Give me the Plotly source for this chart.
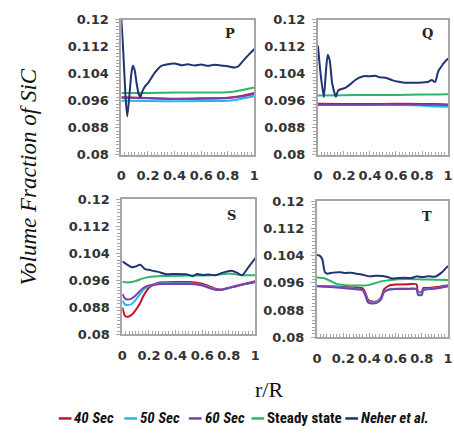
import plotly.graph_objects as go
from plotly.subplots import make_subplots

W, H = 454, 439

series_names = ["40 Sec", "50 Sec", "60 Sec", "Steady state", "Neher et al."]
series_colors = ["#c8102e", "#29b6ea", "#7a3fa8", "#2fb56a", "#1f3470"]
panel_labels = ["P", "Q", "S", "T"]
y_ticks = [0.08, 0.088, 0.096, 0.104, 0.112, 0.12]
x_ticks = [0, 0.2, 0.4, 0.6, 0.8, 1]

# ---------------- Panel P ----------------
P_x_neher = [0, 0.015, 0.03, 0.044, 0.06, 0.075, 0.086, 0.1, 0.115, 0.13, 0.142, 0.16, 0.18, 0.2, 0.25, 0.3,
             0.35, 0.4, 0.45, 0.5, 0.55, 0.6, 0.65, 0.7, 0.75, 0.8, 0.85, 0.88, 0.92, 0.96, 1.0]
P_neher = [0.1200, 0.1100, 0.0980, 0.0913, 0.0975, 0.1040, 0.1063, 0.1050, 0.1010, 0.0980, 0.0971, 0.0990,
           0.1004, 0.1012, 0.1042, 0.1063, 0.1068, 0.1070, 0.1065, 0.1068, 0.1064, 0.1067, 0.1063, 0.1066,
           0.1064, 0.1062, 0.1058, 0.1062, 0.1080, 0.1097, 0.1113]
P_x = [0, 0.2, 0.4, 0.6, 0.8, 0.85, 0.9, 1.0]
P_40 = [0.0970, 0.0968, 0.0966, 0.0967, 0.0969, 0.0971, 0.0974, 0.0983]
P_50 = [0.0960, 0.0959, 0.0958, 0.0959, 0.0960, 0.0962, 0.0966, 0.0973]
P_60 = [0.0969, 0.0967, 0.0965, 0.0966, 0.0968, 0.0970, 0.0972, 0.0980]
P_ss = [0.0983, 0.0983, 0.0984, 0.0984, 0.0985, 0.0987, 0.0991, 0.0999]

# ---------------- Panel Q ----------------
Q_x_neher = [0, 0.02, 0.045, 0.06, 0.075, 0.09, 0.11, 0.138, 0.155, 0.175, 0.21, 0.25, 0.29, 0.33, 0.37, 0.4,
             0.44, 0.475, 0.52, 0.575, 0.62, 0.675, 0.74, 0.8, 0.85, 0.875, 0.9, 0.925, 0.95, 0.975, 1.0]
Q_neher = [0.1123, 0.1040, 0.0971, 0.1040, 0.1096, 0.1080, 0.1010, 0.0972, 0.0990, 0.0994, 0.0998, 0.1009,
           0.1022, 0.1030, 0.1033, 0.1032, 0.1034, 0.1029, 0.1028, 0.1020, 0.1016, 0.1013, 0.1013, 0.1014,
           0.1016, 0.1021, 0.1015, 0.1047, 0.1062, 0.1075, 0.1085]
Q_x = [0, 0.2, 0.4, 0.6, 0.8, 0.85, 0.9, 1.0]
Q_40 = [0.0951, 0.0950, 0.0950, 0.0951, 0.0950, 0.0950, 0.0950, 0.0949]
Q_50 = [0.0947, 0.0947, 0.0947, 0.0947, 0.0946, 0.0944, 0.0943, 0.0942]
Q_60 = [0.0948, 0.0948, 0.0948, 0.0949, 0.0948, 0.0948, 0.0948, 0.0947]
Q_ss = [0.0975, 0.0976, 0.0977, 0.0977, 0.0978, 0.0978, 0.0978, 0.0979]

# ---------------- Panel S ----------------
S_x_neher = [0, 0.03, 0.07, 0.1, 0.135, 0.17, 0.2, 0.23, 0.27, 0.33, 0.4, 0.48, 0.53, 0.56, 0.6, 0.65, 0.7,
             0.75, 0.82, 0.86, 0.9, 0.95, 1.0]
S_neher = [0.1016, 0.1008, 0.0999, 0.1001, 0.1006, 0.0993, 0.0991, 0.0988, 0.0985, 0.0978, 0.0979, 0.0978,
           0.0972, 0.0979, 0.0976, 0.0977, 0.0975, 0.0982, 0.0988, 0.0983, 0.0975, 0.1000, 0.1026]
S_x_ss = [0, 0.05, 0.1, 0.15, 0.2, 0.3, 0.5, 0.7, 0.8, 0.85, 0.9, 1.0]
S_ss = [0.0955, 0.0954, 0.0958, 0.0965, 0.0970, 0.0973, 0.0974, 0.0976, 0.0980, 0.0978, 0.0975, 0.0975]
S_x = [0, 0.02, 0.04, 0.07, 0.1, 0.13, 0.16, 0.2, 0.25, 0.3, 0.4, 0.5, 0.6, 0.65, 0.7, 0.75, 0.8, 0.9, 1.0]
S_40 = [0.0880, 0.0855, 0.0852, 0.0858, 0.0872, 0.0890, 0.0915, 0.0938, 0.0950, 0.0954, 0.0955, 0.0955,
        0.0950, 0.0943, 0.0935, 0.0933, 0.0938, 0.0948, 0.0957]
S_50 = [0.0900, 0.0889, 0.0887, 0.0890, 0.0902, 0.0918, 0.0933, 0.0943, 0.0949, 0.0951, 0.0951, 0.0951,
        0.0946, 0.0940, 0.0933, 0.0932, 0.0937, 0.0947, 0.0955]
S_60 = [0.0920, 0.0906, 0.0903, 0.0906, 0.0915, 0.0928, 0.0938, 0.0945, 0.0948, 0.0949, 0.0949, 0.0949,
        0.0945, 0.0938, 0.0932, 0.0932, 0.0937, 0.0947, 0.0955]

# ---------------- Panel T ----------------
T_x_neher = [0, 0.02, 0.04, 0.06, 0.08, 0.12, 0.18, 0.22, 0.26, 0.3, 0.35, 0.4, 0.45, 0.5, 0.54, 0.57, 0.62,
             0.67, 0.72, 0.76, 0.8, 0.85, 0.9, 0.95, 1.0]
T_neher = [0.1042, 0.1040, 0.1030, 0.0992, 0.0987, 0.0990, 0.0991, 0.0989, 0.0990, 0.0987, 0.0984, 0.0979,
           0.0981, 0.0980, 0.0977, 0.0973, 0.0974, 0.0975, 0.0974, 0.0979, 0.0977, 0.0979, 0.0978, 0.0990, 0.1010]
T_x_ss = [0, 0.05, 0.1, 0.15, 0.2, 0.3, 0.35, 0.4, 0.45, 0.5, 0.6, 0.7, 0.8, 0.9, 1.0]
T_ss = [0.0976, 0.0974, 0.0966, 0.0957, 0.0954, 0.0952, 0.0952, 0.0954, 0.0960, 0.0965, 0.0970, 0.0971,
        0.0970, 0.0969, 0.0968]
T_x = [0, 0.1, 0.2, 0.3, 0.35, 0.37, 0.39, 0.42, 0.46, 0.49, 0.51, 0.55, 0.6, 0.7, 0.76, 0.77, 0.8, 0.81,
       0.84, 0.9, 1.0]
T_40 = [0.0951, 0.0950, 0.0948, 0.0946, 0.0944, 0.0930, 0.0910, 0.0905, 0.0906, 0.0918, 0.0940, 0.0952,
        0.0955, 0.0956, 0.0956, 0.0935, 0.0933, 0.0945, 0.0945, 0.0947, 0.0953]
T_50 = [0.0951, 0.0949, 0.0946, 0.0942, 0.0939, 0.0925, 0.0905, 0.0902, 0.0905, 0.0915, 0.0934, 0.0941,
        0.0943, 0.0943, 0.0943, 0.0932, 0.0931, 0.0939, 0.0942, 0.0944, 0.0951]
T_60 = [0.0950, 0.0948, 0.0945, 0.0941, 0.0938, 0.0922, 0.0902, 0.0899, 0.0902, 0.0912, 0.0932, 0.0940,
        0.0942, 0.0942, 0.0942, 0.0925, 0.0924, 0.0938, 0.0941, 0.0943, 0.0950]

panels = [
    (1, 1, [(P_x, P_40, 0), (P_x, P_50, 1), (P_x, P_60, 2), (P_x, P_ss, 3), (P_x_neher, P_neher, 4)]),
    (1, 2, [(Q_x, Q_40, 0), (Q_x, Q_50, 1), (Q_x, Q_60, 2), (Q_x, Q_ss, 3), (Q_x_neher, Q_neher, 4)]),
    (2, 1, [(S_x, S_40, 0), (S_x, S_50, 1), (S_x, S_60, 2), (S_x_ss, S_ss, 3), (S_x_neher, S_neher, 4)]),
    (2, 2, [(T_x, T_40, 0), (T_x, T_50, 1), (T_x, T_60, 2), (T_x_ss, T_ss, 3), (T_x_neher, T_neher, 4)]),
]

fig = make_subplots(rows=2, cols=2)
for row, col, items in panels:
    for xs, ys, si in items:
        fig.add_trace(go.Scatter(x=xs, y=ys, mode="lines", name=series_names[si], showlegend=False,
                                 line=dict(color=series_colors[si], width=2, shape="spline", smoothing=0.6)),
                      row=row, col=col)

# plot-area pixel boxes (left, right, top, bottom)
boxes = [(119, 255, 13, 153), (320, 453, 13, 153), (120, 256, 199, 339), (319, 453, 201, 342)]
axis_names = [("xaxis", "yaxis"), ("xaxis2", "yaxis2"), ("xaxis3", "yaxis3"), ("xaxis4", "yaxis4")]
tick_font = dict(family="DejaVu Sans", size=13, color="#333333", weight="bold")
for (l, r, t, b), (xa, ya) in zip(boxes, axis_names):
    fig.layout[xa].update(domain=[l / W, r / W], range=[0, 1], tickvals=x_ticks,
                          ticktext=["0", "0.2", "0.4", "0.6", "0.8", "1"],
                          showgrid=False, zeroline=False, showline=True, linecolor="#a6a6a6", linewidth=2,
                          mirror=True, ticks="inside", ticklen=4, tickcolor="#a6a6a6", tickfont=tick_font,
                          ticklabelstandoff=8,
                          minor=dict(dtick=0.025, ticks="inside", ticklen=3, tickcolor="#a6a6a6", showgrid=False))
    fig.layout[ya].update(domain=[1 - b / H, 1 - t / H], range=[0.08, 0.12], tickvals=y_ticks,
                          ticktext=["0.08", "0.088", "0.096", "0.104", "0.112", "0.12"],
                          showgrid=False, zeroline=False, showline=True, linecolor="#a6a6a6", linewidth=2,
                          mirror=True, ticks="outside", ticklen=4, tickcolor="#a6a6a6", tickfont=tick_font,
                          ticklabelstandoff=4,
                          minor=dict(dtick=0.001, ticks="outside", ticklen=3, tickcolor="#a6a6a6", showgrid=False))

annotations = []
label_pos = [(230, 27), (432, 27), (232, 216), (432, 217)]
for lab, (px, py) in zip(panel_labels, label_pos):
    annotations.append(dict(text="<b>%s</b>" % lab, x=px / W, y=1 - py / H, xref="paper", yref="paper",
                            xanchor="center", yanchor="middle", showarrow=False,
                            font=dict(family="DejaVu Serif", size=13, color="#222222")))

annotations.append(dict(text="<i>Volume Fraction of SiC</i>", x=25 / W, y=1 - 176 / H, xref="paper",
                        yref="paper", xanchor="center", yanchor="middle", showarrow=False, textangle=-90,
                        font=dict(family="Liberation Serif", size=23, color="#111111")))
annotations.append(dict(text="r/R", x=270 / W, y=1 - 396 / H, xref="paper", yref="paper",
                        xanchor="center", yanchor="middle", showarrow=False,
                        font=dict(family="Liberation Serif", size=22, color="#111111")))

legend_x = [55, 122, 188, 252, 348]
legend_y = 426
italic = [True, True, True, False, True]
shapes = []
for name, color, lx, it in zip(series_names, series_colors, legend_x, italic):
    label = "<i>%s</i>" % name if it else name
    annotations.append(dict(text="<b>%s</b>" % label,
                            x=(lx + 14) / W, y=1 - legend_y / H, xref="paper", yref="paper", xanchor="left",
                            yanchor="middle", showarrow=False,
                            font=dict(family="Liberation Sans Narrow, Roboto Condensed, Liberation Sans",
                                      size=15, color="#111111")))
    shapes.append(dict(type="line", xref="paper", yref="paper", x0=lx / W, x1=(lx + 13) / W,
                       y0=1 - legend_y / H, y1=1 - legend_y / H, line=dict(color=color, width=2.5)))

fig.update_layout(width=W, height=H, margin=dict(l=0, r=0, t=0, b=0), paper_bgcolor="white",
                  plot_bgcolor="white", showlegend=False, annotations=annotations, shapes=shapes)

fig.write_html("out.html")
